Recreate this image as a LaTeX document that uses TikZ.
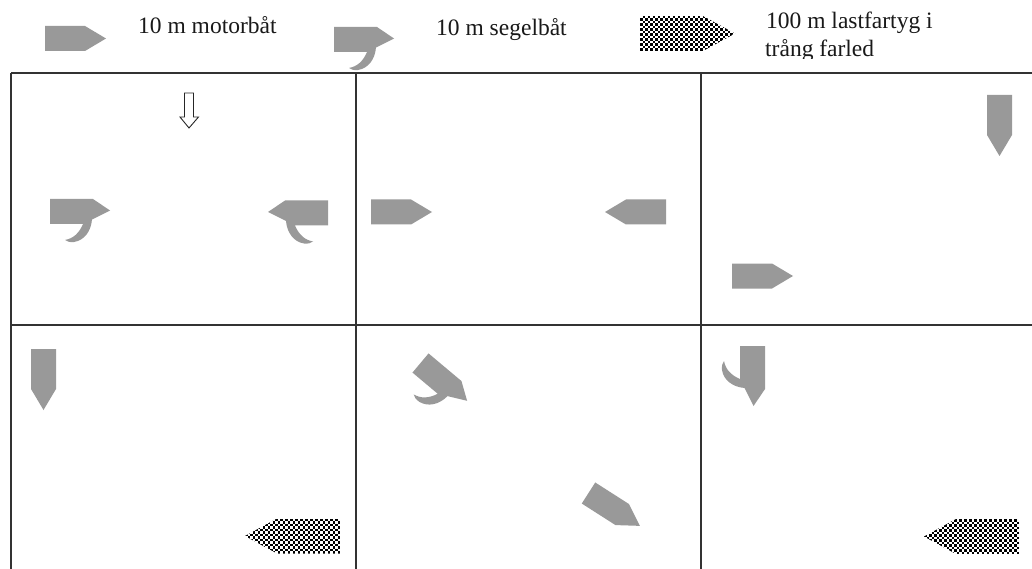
\documentclass[tikz,border=0pt]{standalone}
\usepackage{fontspec}
\setmainfont{Liberation Serif}
\tikzset{
  hull/.style={fill=hullgray,draw=none},
  gridline/.style={draw=gridgray,line width=1.8pt,line cap=butt},
  legend/.style={inner sep=0pt,anchor=base west,font=\fontsize{23.5pt}{27pt}\selectfont,text=black!90},
  motor/.pic={\fill[hull] (0,-12.5) -- (40,-12.5) -- (61,0) -- (40,12.5) -- (0,12.5) -- cycle;},
  sail/.pic={\fill[hull] (0,-12.5) -- (43,-12.5) -- (60,-1) -- (42,8)
      .. controls (41,20) and (34,29) .. (24,30.5) .. controls (20,31) and (17,30) .. (15,28.5)
      .. controls (23,27) and (29,22) .. (33,12.5) -- (0,12.5) -- cycle;},
  cargo/.pic={\begin{scope}
      \clip (0,-17.5) -- (63,-17.5) -- (95,0) -- (63,17.5) -- (0,17.5) -- cycle;
      \foreach \i in {0,...,38}{\foreach \j in {-7,...,6}{
        \ifodd\numexpr\i+\j\relax\else
          \fill[black] (\i*2.5,\j*2.5) rectangle ++(2.5,2.5);
        \fi}}
    \end{scope}}
}
\definecolor{hullgray}{HTML}{999999}
\definecolor{gridgray}{HTML}{333333}
\begin{document}
\begin{tikzpicture}[x=1pt,y=-1pt]
\useasboundingbox (0,0) rectangle (1032,569);
\fill[white] (0,0) rectangle (1032,569);
% grid
\coordinate (tl) at (11,73); \coordinate (tr) at (1032,73);
\coordinate (ml) at (11,325); \coordinate (mr) at (1032,325);
\coordinate (bl) at (11,569); \coordinate (b2) at (356,569); \coordinate (b3) at (701,569);
\coordinate (t2) at (356,73); \coordinate (t3) at (701,73);
\draw[gridline] (tl) -- (tr);
\draw[gridline] (ml) -- (mr);
\draw[gridline] (tl) -- (bl);
\draw[gridline] (t2) -- (b2);
\draw[gridline] (t3) -- (b3);
% legend
\pic (legmotor) at (45,38.5) {motor};
\node[legend] (t1) at (138,34) {10 m motorbåt};
\pic (legsail) at (334,39.5) {sail};
\node[legend] (t2n) at (436,36) {10 m segelbåt};
\pic (legcargo) at (640,33.5) {cargo};
\node[legend] (t3a) at (766,29) {100 m lastfartyg i};
\begin{scope}
\clip (760,38) rectangle (900,58.5);
\node[legend] (t3b) at (765,57) {trång farled};
\end{scope}
% cell 1
\pic (a1) at (50,211.5) {sail};
\pic[xscale=-1] (a2) at (328,213) {sail};
\draw[draw=black!85,fill=white,line width=0.9pt,line join=miter]
  (184.5,93) -- (193.5,93) -- (193.5,117) -- (198.5,117) -- (189,128) -- (180,117) -- (184.5,117) -- cycle;
% cell 2
\pic (b1) at (371,212) {motor};
\pic[xscale=-1] (b2m) at (666,212) {motor};
% cell 3
\pic[rotate=-90] (c1) at (999.5,95) {motor};
\pic (c2) at (732,276) {motor};
% cell 4
\pic[rotate=-90] (d1) at (43.5,349) {motor};
\pic[xscale=-1] (d2) at (340,536) {cargo};
% cell 5
\pic[rotate=-40] (e1) at (420.5,363) {sail};
\pic[rotate=-32.6] (e2) at (588.5,493) {motor};
% cell 6
\pic[rotate=-90] (f1) at (752.5,346) {sail};
\pic[xscale=-1] (f2) at (1019,536.5) {cargo};
\end{tikzpicture}
\end{document}
